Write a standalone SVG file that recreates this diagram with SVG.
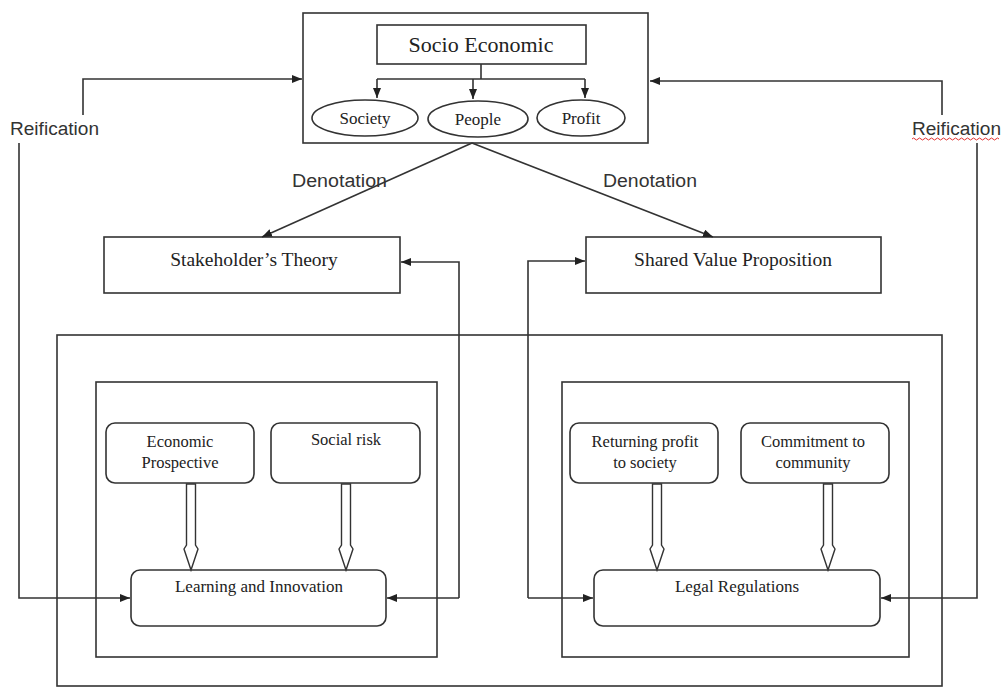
<svg xmlns="http://www.w3.org/2000/svg" width="1001" height="688" viewBox="0 0 1001 688">
<style>
.box{fill:#fff;stroke:#333;stroke-width:1.6}
.ln{fill:none;stroke:#333;stroke-width:1.6}
.ar{fill:none;stroke:#333;stroke-width:1.6;marker-end:url(#ah)}
.hol{fill:#fff;stroke:#333;stroke-width:1.4}
.serif{font-family:"Liberation Serif","Times New Roman",serif;fill:#222;text-anchor:middle}
.sans{font-family:"Liberation Sans",Arial,sans-serif;fill:#333}
</style>
<defs>
<marker id="ah" markerUnits="userSpaceOnUse" markerWidth="11" markerHeight="9" refX="10" refY="4" orient="auto">
<path d="M0,0 L10,4 L0,8 z" fill="#222"/>
</marker>
</defs>
<rect width="1001" height="688" fill="#fff"/>

<g id="top-frame"><rect class="box" x="303" y="13" width="345" height="130"/></g>
<g id="socio-economic"><rect class="box" x="377" y="25" width="209" height="39"/><text class="serif" x="481" y="52" font-size="22">Socio Economic</text></g>
<g id="society"><ellipse class="box" cx="365" cy="118" rx="53" ry="18"/><text class="serif" x="365" y="124" font-size="17">Society</text></g>
<g id="people"><ellipse class="box" cx="478" cy="119" rx="50" ry="18"/><text class="serif" x="478" y="125" font-size="17">People</text></g>
<g id="profit"><ellipse class="box" cx="581" cy="118" rx="44" ry="18"/><text class="serif" x="581" y="124" font-size="17">Profit</text></g>

<g id="stakeholders-theory"><rect class="box" x="104" y="237" width="296" height="56"/><text class="serif" x="254" y="266" font-size="19.5">Stakeholder’s Theory</text></g>
<g id="shared-value"><rect class="box" x="586" y="237" width="295" height="56"/><text class="serif" x="733" y="266" font-size="19.5">Shared Value Proposition</text></g>

<g id="outer-frame"><rect class="ln" x="57" y="335" width="885" height="351"/></g>
<g id="left-frame"><rect class="ln" x="96" y="382" width="341" height="275"/></g>
<g id="right-frame"><rect class="ln" x="562" y="382" width="347" height="275"/></g>

<g id="economic-prospective"><rect class="box" x="106" y="423" width="148" height="60" rx="9"/><text class="serif" x="180" y="447" font-size="16.5">Economic</text><text class="serif" x="180" y="468" font-size="16.5">Prospective</text></g>
<g id="social-risk"><rect class="box" x="271" y="423" width="149" height="60" rx="9"/><text class="serif" x="346" y="445" font-size="16.5">Social risk</text></g>
<g id="learning-innovation"><rect class="box" x="131" y="570" width="255" height="56" rx="9"/><text class="serif" x="259" y="592" font-size="17">Learning and Innovation</text></g>

<g id="returning-profit"><rect class="box" x="570" y="423" width="148" height="60" rx="9"/><text class="serif" x="645" y="447" font-size="16.5">Returning profit</text><text class="serif" x="645" y="468" font-size="16.5">to society</text></g>
<g id="commitment"><rect class="box" x="741" y="423" width="148" height="60" rx="9"/><text class="serif" x="813" y="447" font-size="16.5">Commitment to</text><text class="serif" x="813" y="468" font-size="16.5">community</text></g>
<g id="legal-regulations"><rect class="box" x="594" y="570" width="286" height="56" rx="9"/><text class="serif" x="737" y="592" font-size="17">Legal Regulations</text></g>

<g id="labels">
<text class="sans" x="10" y="135" font-size="18" textLength="89" lengthAdjust="spacingAndGlyphs">Reification</text>
<text class="sans" x="912" y="135" font-size="18" textLength="89" lengthAdjust="spacingAndGlyphs">Reification</text>
<path d="M912,139 q1.5,-2 3,0 t3,0 t3,0 t3,0 t3,0 t3,0 t3,0 t3,0 t3,0 t3,0 t3,0 t3,0 t3,0 t3,0 t3,0 t3,0 t3,0 t3,0 t3,0 t3,0 t3,0 t3,0 t3,0 t3,0 t3,0 t3,0 t3,0 t3,0 t3,0" fill="none" stroke="#e03030" stroke-width="1"/>
<text class="sans" x="292" y="187" font-size="18" textLength="95" lengthAdjust="spacingAndGlyphs">Denotation</text>
<text class="sans" x="603" y="187" font-size="18" textLength="94" lengthAdjust="spacingAndGlyphs">Denotation</text>
</g>

<g id="connectors">
<path class="ln" d="M481,64 V79 M377,79 H585"/>
<path class="ar" d="M377,79 V98"/>
<path class="ar" d="M473,79 V99"/>
<path class="ar" d="M585,79 V98"/>
<path class="ar" d="M472,143 L262,237"/>
<path class="ar" d="M472,143 L713,237"/>
<path class="ar" d="M83,115 V79 H302"/>
<path class="ar" d="M942,115 V81 H650"/>
<path class="ar" d="M19,143 V598 H130"/>
<path class="ar" d="M977,143 V598 H881"/>
<path class="ar" d="M459,598 V262 H401"/>
<path class="ar" d="M459,598 H387"/>
<path class="ar" d="M528,598 V261 H585"/>
<path class="ar" d="M528,598 H593"/>
<polygon class="hol" points="186.5,484 195.5,484 195.5,545 198,549 191,570 184,549 186.5,545"/>
<polygon class="hol" points="341.5,484 350.5,484 350.5,545 353,549 346,570 339,549 341.5,545"/>
<polygon class="hol" points="652.5,484 661.5,484 661.5,545 664,549 657,570 650,549 652.5,545"/>
<polygon class="hol" points="823.5,484 832.5,484 832.5,545 835,549 828,570 821,549 823.5,545"/>
</g>
</svg>
